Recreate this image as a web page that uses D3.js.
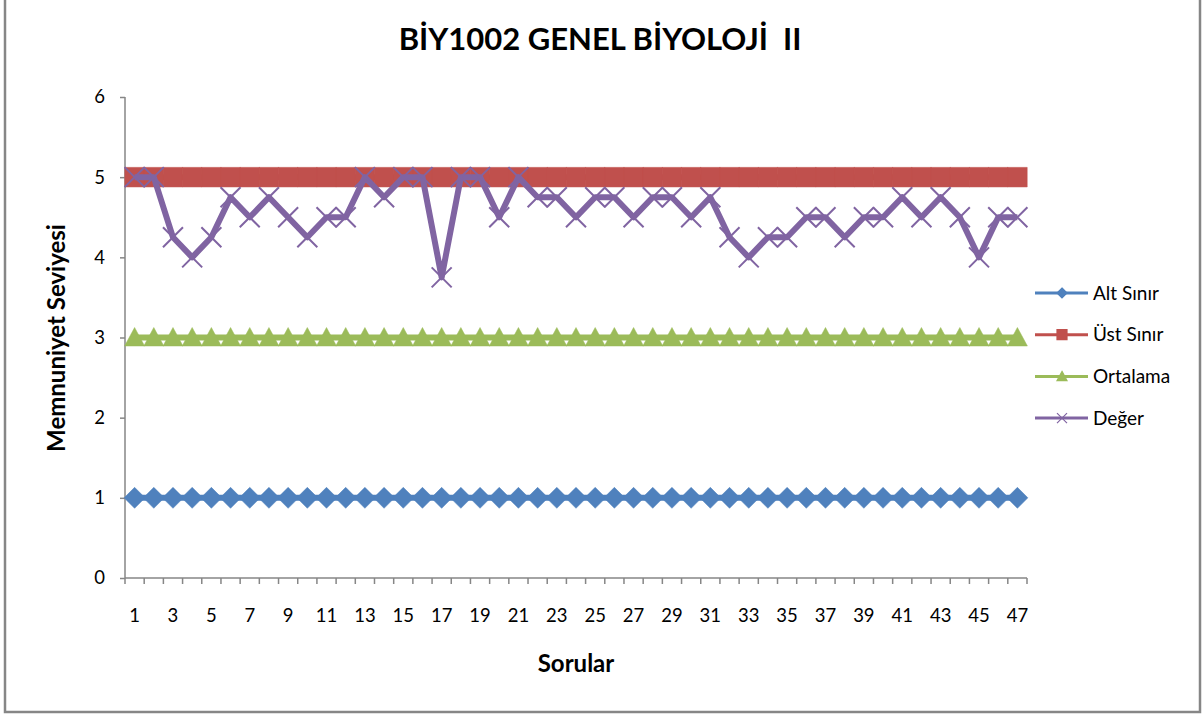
<!DOCTYPE html>
<html>
<head>
<meta charset="utf-8">
<script src="https://cdn.jsdelivr.net/npm/d3@7"></script>
<style>
body {
    margin: 0;
    background: #fff;
    font-family: "Lato", "Liberation Sans", sans-serif;
}
</style>
</head>
<body>
<script>
// chart values
var questions = d3.range(1, 48);
var seriesNames = ["Alt Sınır", "Üst Sınır", "Ortalama", "Değer"];
var altSinir = questions.map(function() { return 1; });
var ustSinir = questions.map(function() { return 5; });
var ortalama = questions.map(function() { return 3; });
var deger = [5, 5, 4.25, 4, 4.25, 4.75, 4.5, 4.75, 4.5, 4.25,
             4.5, 4.5, 5, 4.75, 5, 5, 3.75, 5, 5, 4.5,
             5, 4.75, 4.75, 4.5, 4.75, 4.75, 4.5, 4.75, 4.75, 4.5,
             4.75, 4.25, 4, 4.25, 4.25, 4.5, 4.5, 4.25, 4.5, 4.5,
             4.75, 4.5, 4.75, 4.5, 4, 4.5, 4.5];
var yTicks = [0, 1, 2, 3, 4, 5, 6];

var width = 1203, height = 714;
var plot = {left: 125, right: 1027, top: 97, bottom: 578};

var svg = d3.select("body").append("svg")
    .attr("width", width)
    .attr("height", height);

// chart frame
svg.append("rect")
    .attr("x", 5).attr("y", -5)
    .attr("width", 1195).attr("height", 717)
    .attr("fill", "#fff")
    .attr("stroke", "#868686")
    .attr("stroke-width", 2.5);

var x = d3.scaleBand()
    .domain(questions)
    .range([plot.left, plot.right]);

var y = d3.scaleLinear()
    .domain([0, 6])
    .range([plot.bottom, plot.top]);

function cx(d, i) { return x(questions[i]) + x.bandwidth() / 2; }

// axes
var yAxis = d3.axisLeft(y).tickValues(yTicks).tickSize(5).tickPadding(15)
    .tickFormat(d3.format("d"));
var gy = svg.append("g").attr("transform", "translate(" + plot.left + ",0)").call(yAxis);
gy.select(".domain").remove();
gy.append("line")
    .attr("x1", 0).attr("x2", 0)
    .attr("y1", plot.top).attr("y2", plot.bottom)
    .attr("stroke", "#868686").attr("stroke-width", 1.5);

var xAxis = d3.axisBottom(x).tickSize(0).tickPadding(31)
    .tickFormat(function(d) { return d % 2 === 1 ? d : ""; });
var gx = svg.append("g").attr("transform", "translate(0," + plot.bottom + ")").call(xAxis);
gx.select(".domain").remove();
gx.append("line")
    .attr("x1", plot.left).attr("x2", plot.right)
    .attr("y1", 0).attr("y2", 0)
    .attr("stroke", "#868686").attr("stroke-width", 1.5);
// ticks between categories
gx.selectAll(".sep")
    .data(questions.concat([0]))
    .enter().append("line")
    .attr("class", "sep")
    .attr("x1", function(d, i) { return plot.left + i * x.step(); })
    .attr("x2", function(d, i) { return plot.left + i * x.step(); })
    .attr("y1", 0).attr("y2", 6)
    .attr("stroke", "#868686").attr("stroke-width", 1.5);

svg.selectAll(".tick line").attr("stroke", "#868686").attr("stroke-width", 1.5);
svg.selectAll(".tick text")
    .attr("font-family", "Lato, 'Liberation Sans', sans-serif")
    .attr("font-size", 18.5)
    .attr("fill", "#000");

// marker shapes
function diamond(s) {
    return "M0," + (-s) + "L" + s + ",0L0," + s + "L" + (-s) + ",0Z";
}
function square(s) {
    return "M" + (-s) + "," + (-s) + "H" + s + "V" + s + "H" + (-s) + "Z";
}
function triangle(s) {
    return "M0," + (-s) + "L" + s + "," + (s * 0.85) + "L" + (-s) + "," + (s * 0.85) + "Z";
}
function cross(s) {
    return "M" + (-s) + "," + (-s) + "L" + s + "," + s + "M" + (-s) + "," + s + "L" + s + "," + (-s);
}

var series = [
    {name: seriesNames[0], values: altSinir, color: "#4F81BD", shape: diamond, size: 10.5},
    {name: seriesNames[1], values: ustSinir, color: "#C0504D", shape: square, size: 9.8},
    {name: seriesNames[2], values: ortalama, color: "#9BBB59", shape: triangle, size: 10},
    {name: seriesNames[3], values: deger, color: "#8064A2", shape: cross, size: 10}
];

var line = d3.line()
    .x(cx)
    .y(function(d) { return y(d); });

series.forEach(function(s) {
    var g = svg.append("g");
    g.append("path")
        .datum(s.values)
        .attr("d", line)
        .attr("fill", "none")
        .attr("stroke", s.color)
        .attr("stroke-width", 6)
        .attr("stroke-linejoin", "round");
    g.selectAll("path.mk")
        .data(s.values)
        .enter().append("path")
        .attr("class", "mk")
        .attr("transform", function(d, i) { return "translate(" + cx(d, i) + "," + y(d) + ")"; })
        .attr("d", s.shape(s.size))
        .attr("fill", s.shape === cross ? "none" : s.color)
        .attr("stroke", s.color)
        .attr("stroke-width", s.shape === cross ? 2 : 0.5);
});

// legend
var legend = svg.append("g").selectAll("g")
    .data(series)
    .enter().append("g")
    .attr("transform", function(d, i) { return "translate(1035," + (293 + i * 41.7) + ")"; });
legend.append("line")
    .attr("x1", 0).attr("x2", 53)
    .attr("stroke", function(d) { return d.color; })
    .attr("stroke-width", 3);
legend.append("path")
    .attr("transform", "translate(27,0)")
    .attr("d", function(d) { return d.shape(5); })
    .attr("fill", function(d) { return d.shape === cross ? "none" : d.color; })
    .attr("stroke", function(d) { return d.color; })
    .attr("stroke-width", 1.2);
legend.append("text")
    .attr("x", 58)
    .attr("dy", "0.35em")
    .attr("font-size", 19)
    .text(function(d) { return d.name; });

// titles
svg.append("text")
    .attr("x", 600).attr("y", 50)
    .attr("text-anchor", "middle")
    .attr("font-size", 31)
    .attr("font-weight", "bold")
    .attr("xml:space", "preserve")
    .text("BİY1002 GENEL BİYOLOJİ  II");

svg.append("text")
    .attr("transform", "translate(65,338) rotate(-90)")
    .attr("text-anchor", "middle")
    .attr("font-size", 24)
    .attr("font-weight", "bold")
    .text("Memnuniyet Seviyesi");

svg.append("text")
    .attr("x", 576).attr("y", 672)
    .attr("text-anchor", "middle")
    .attr("font-size", 24)
    .attr("font-weight", "bold")
    .text("Sorular");
</script>
</body>
</html>
